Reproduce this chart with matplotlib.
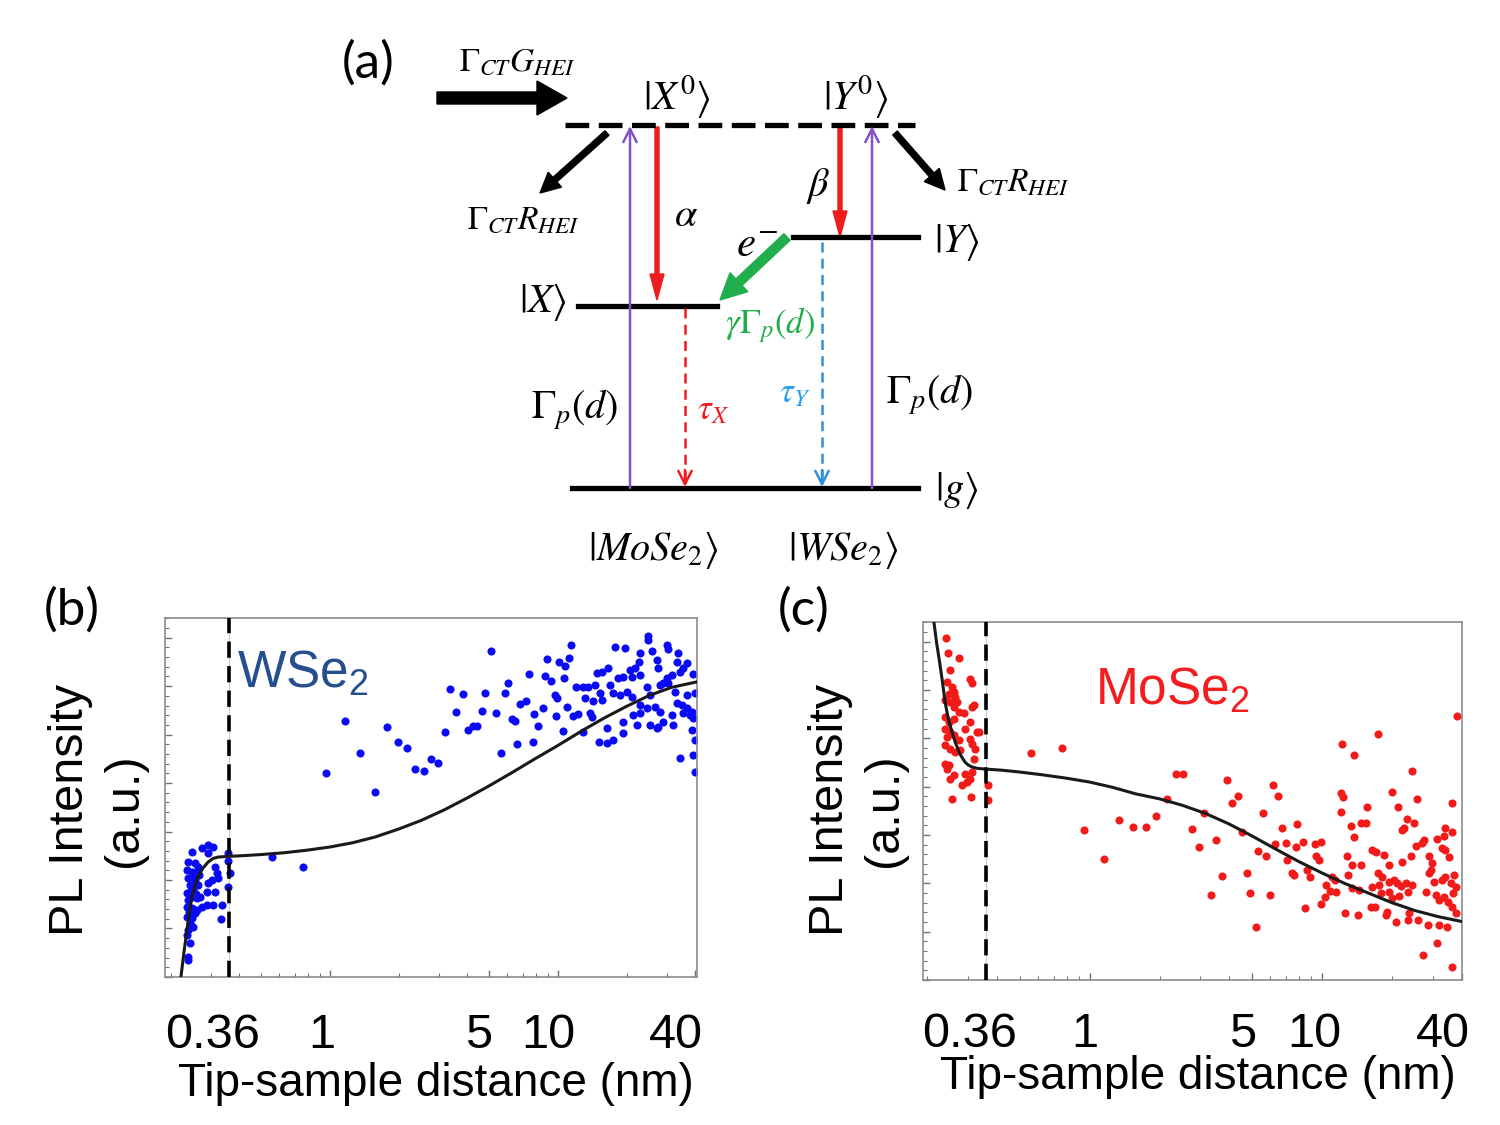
import numpy as np
import matplotlib.pyplot as plt
import matplotlib.transforms as mtransforms
from matplotlib import font_manager
from matplotlib.ticker import LogLocator, MultipleLocator, NullFormatter

plt.rcParams['font.family'] = ['Liberation Sans', 'DejaVu Sans']
plt.rcParams['mathtext.fontset'] = 'custom'
plt.rcParams['mathtext.rm'] = 'Liberation Sans'
plt.rcParams['mathtext.it'] = 'Liberation Sans:italic'

# ---------------- data ----------------
dist_ticks = [0.36, 1, 5, 10, 40]
dist_tick_labels = ['0.36', '1', '5', '10', '40']
tip_cut = 0.36

# WSe2 (panel b): (distance nm, PL a.u.)
wse2_near = [(0.248, 34.8), (0.275, 35.9), (0.292, 36.8), (0.307, 36.2), (0.292, 34.5), (0.357, 34.5),
             (0.238, 32.0), (0.256, 31.8), (0.264, 30.6), (0.236, 29.8), (0.248, 29.2), (0.261, 29.0),
             (0.313, 30.6), (0.319, 29.0), (0.323, 27.6), (0.304, 27.0), (0.365, 29.0),
             (0.238, 27.6), (0.256, 27.0), (0.243, 25.6), (0.264, 25.6), (0.250, 24.2),
             (0.292, 26.2), (0.289, 23.7), (0.313, 23.7), (0.236, 23.4), (0.248, 22.3), (0.238, 21.4),
             (0.261, 22.0), (0.269, 22.3), (0.307, 20.1), (0.336, 20.1), (0.289, 20.1),
             (0.236, 19.5), (0.248, 19.2), (0.261, 18.7), (0.275, 19.5), (0.236, 16.7), (0.248, 16.4),
             (0.256, 17.8), (0.243, 15.0), (0.250, 13.9), (0.238, 13.1), (0.236, 11.7), (0.243, 9.5),
             (0.238, 5.6), (0.238, 4.7), (0.357, 32.3), (0.357, 25.1), (0.333, 16.2),
             (0.252, 27.8), (0.245, 24.0), (0.258, 23.2), (0.241, 18.0), (0.266, 28.3)]
wse2_mid = [(0.556, 33.3), (0.762, 30.7), (0.960, 56.8), (1.16, 71.4), (1.35, 62.3), (1.58, 51.4),
            (1.78, 69.7), (1.99, 65.5), (2.18, 63.7), (2.36, 58.0), (2.58, 57.3), (2.77, 60.6),
            (2.98, 59.6), (3.19, 68.3), (3.36, 80.3), (3.57, 73.7), (3.83, 78.7), (4.03, 68.7),
            (4.24, 70.0), (4.41, 70.0), (4.64, 74.2), (4.79, 79.1), (5.08, 90.8), (5.35, 73.4),
            (5.62, 62.3), (5.86, 79.1), (6.04, 81.9), (6.28, 71.8), (6.48, 71.4), (6.61, 65.0),
            (6.81, 76.1), (7.24, 77.0), (7.46, 84.5), (7.77, 65.4), (7.85, 73.2), (8.17, 70.0)]
wse2_far = [(11.4, 92.5), (8.95, 88.6), (10.1, 87.7), (10.7, 86.6), (11.2, 88.9), (8.77, 83.8),
            (9.31, 82.5), (10.6, 83.3), (9.70, 78.6), (9.90, 77.7), (12.0, 80.8), (12.9, 80.8),
            (13.5, 80.8), (13.1, 77.7), (14.2, 76.9), (15.6, 77.2), (8.60, 74.9), (10.9, 75.2),
            (11.6, 72.7), (12.2, 73.3), (13.8, 73.5), (14.1, 72.4), (9.80, 72.7), (10.5, 68.5),
            (12.9, 68.2), (14.8, 84.7), (15.6, 85.0), (16.6, 86.1), (14.5, 81.3), (16.9, 81.3),
            (18.3, 83.3), (19.3, 83.6), (15.3, 79.1), (17.4, 79.1), (18.7, 78.6), (20.1, 79.4),
            (17.8, 91.9), (19.7, 91.6), (20.7, 85.5), (21.8, 86.1), (22.9, 84.1), (21.1, 83.6),
            (22.9, 90.3), (22.6, 87.7), (24.8, 93.9), (25.9, 90.8), (27.2, 88.3), (27.5, 86.1),
            (24.6, 80.8), (25.3, 78.6), (28.0, 81.3), (21.1, 78.0), (30.4, 91.4), (33.6, 90.3),
            (33.3, 87.7), (36.8, 87.5), (30.1, 83.3), (31.6, 84.1), (34.3, 85.0), (35.3, 86.1),
            (28.9, 81.9), (30.4, 81.9), (32.6, 79.4), (36.8, 78.6), (39.9, 79.1), (39.1, 84.4),
            (22.9, 75.8), (24.6, 74.9), (26.6, 75.2), (21.3, 73.0), (22.9, 73.5), (28.0, 73.8),
            (28.9, 71.0), (25.3, 70.2), (33.3, 76.3), (35.0, 75.8), (36.8, 74.9), (35.3, 73.5),
            (37.9, 73.0), (31.6, 73.0), (31.9, 70.2), (38.7, 73.8), (39.1, 72.1), (22.2, 70.2),
            (27.2, 69.4), (27.5, 69.6), (19.3, 71.0), (19.3, 68.0), (16.4, 69.4), (17.4, 66.0),
            (16.4, 65.2), (15.1, 65.5), (38.7, 68.8), (39.9, 66.0), (34.3, 61.0), (39.1, 61.8),
            (39.9, 57.1), (24.8, 95.0), (30.1, 92.5)]
wse2_fit_dist = [0.222, 0.229, 0.236, 0.242, 0.248, 0.256, 0.264, 0.277, 0.292, 0.307, 0.323,
                 0.36, 0.42, 0.50, 0.63, 0.79, 1.0, 1.26, 1.58, 2.0, 2.51, 3.16, 3.98, 5.01,
                 6.31, 7.94, 10.0, 12.6, 15.8, 20.0, 25.1, 31.6, 40.7]
wse2_fit_pl = [0.0, 7.0, 13.1, 18.0, 22.3, 25.5, 27.9, 30.3, 32.0, 33.0, 33.4,
               33.6, 33.8, 34.1, 34.6, 35.3, 36.2, 37.4, 39.0, 41.2, 43.6, 46.5, 49.8, 53.3,
               57.0, 60.8, 64.5, 68.4, 72.0, 75.4, 78.4, 80.7, 82.2]

# MoSe2 (panel c): (distance nm, PL a.u.)
mose2_near = [(0.241, 95.5), (0.246, 91.3), (0.274, 89.9), (0.251, 86.6), (0.306, 84.1), (0.312, 83.0),
              (0.243, 83.2), (0.256, 81.8), (0.261, 80.4), (0.248, 79.9), (0.264, 79.1),
              (0.239, 78.2), (0.251, 77.7), (0.269, 77.7), (0.261, 76.3), (0.274, 74.9), (0.288, 74.6),
              (0.318, 76.8), (0.312, 76.3), (0.239, 73.5), (0.248, 72.1), (0.261, 72.9),
              (0.306, 72.1), (0.334, 69.3), (0.327, 69.3), (0.291, 70.1),
              (0.239, 70.1), (0.251, 69.3), (0.243, 67.9), (0.261, 68.4), (0.274, 67.0),
              (0.306, 67.3), (0.312, 65.9), (0.239, 65.6), (0.251, 64.5), (0.264, 63.7), (0.277, 64.2),
              (0.321, 64.5), (0.318, 61.7), (0.239, 60.3), (0.248, 60.1), (0.243, 58.9),
              (0.291, 57.5), (0.312, 58.1), (0.306, 56.1), (0.261, 57.3), (0.251, 56.1),
              (0.282, 54.5), (0.297, 55.3), (0.256, 50.6), (0.308, 51.1), (0.365, 54.5), (0.365, 50.3)]
mose2_mid = [(0.561, 63.4), (0.758, 64.7), (0.949, 41.9), (1.15, 33.9), (1.34, 44.8), (1.54, 42.8),
             (1.75, 42.8), (1.94, 45.9), (2.16, 50.6)]
mose2_far = [(38.0, 73.7), (17.4, 68.7), (12.2, 65.9), (13.7, 62.8), (24.3, 58.4), (2.36, 57.5),
             (2.53, 57.5), (3.91, 55.9), (6.17, 54.5), (4.36, 51.4), (4.11, 49.4), (6.47, 51.4),
             (12.1, 52.2), (12.3, 51.1), (20.0, 52.5), (25.6, 50.6), (36.1, 49.4), (3.12, 46.6),
             (5.58, 46.6), (12.1, 46.9), (15.7, 48.3), (21.2, 48.3), (2.77, 42.2),
             (4.54, 41.3), (6.73, 42.5), (7.81, 43.6), (13.3, 43.0), (14.7, 43.9), (15.5, 43.9),
             (23.2, 45.0), (24.8, 43.9), (22.0, 41.9), (22.5, 42.5), (33.7, 42.5), (36.1, 41.3),
             (13.7, 39.9), (2.96, 37.2), (3.51, 39.1), (5.31, 36.0), (5.75, 34.6), (6.28, 38.0),
             (7.00, 38.3), (7.73, 37.2), (8.28, 38.5), (9.33, 38.0), (9.91, 38.5), (7.08, 33.5),
             (9.42, 34.6), (9.71, 33.5), (12.8, 34.6), (13.5, 32.1), (14.7, 32.1), (16.4, 36.3),
             (17.1, 35.8), (18.5, 34.9), (19.4, 32.1), (22.0, 33.0), (24.1, 34.6), (25.3, 37.4),
             (27.4, 39.1), (26.9, 38.3), (28.8, 34.6), (29.6, 32.7), (29.4, 30.7), (32.7, 36.9),
             (33.7, 36.3), (35.1, 34.4), (31.2, 39.4), (33.4, 40.2), (3.72, 29.1), (4.76, 29.9),
             (7.43, 29.9), (7.59, 29.3), (8.63, 30.7), (8.87, 28.8), (11.0, 28.8), (11.4, 27.9),
             (10.4, 26.5), (10.8, 24.9), (11.5, 24.6), (12.9, 29.3), (13.5, 25.7), (14.4, 25.1),
             (17.4, 29.9), (18.1, 28.8), (19.4, 27.4), (20.4, 27.9), (21.0, 27.1), (21.8, 26.3),
             (17.6, 26.5), (16.4, 26.0), (17.9, 24.3), (22.9, 27.1), (23.4, 24.6), (24.3, 26.5),
             (19.4, 24.6), (20.0, 22.9), (21.4, 23.5), (27.9, 24.6), (28.8, 29.9), (30.3, 27.4),
             (32.7, 27.9), (34.0, 28.8), (35.8, 27.1), (36.9, 29.3), (37.6, 26.0), (36.5, 24.3),
             (30.8, 23.7), (31.8, 22.3), (33.4, 23.2), (34.7, 21.8), (36.1, 20.4), (37.6, 18.7),
             (3.34, 23.7), (4.91, 24.3), (5.98, 23.7), (8.45, 20.1), (9.91, 21.2), (10.3, 23.2),
             (12.6, 18.7), (14.3, 18.2), (16.2, 20.4), (16.9, 20.4), (18.8, 18.2), (19.0, 19.0),
             (20.8, 16.2), (23.4, 16.8), (23.6, 18.7), (25.8, 16.8), (28.5, 15.4), (31.8, 15.4),
             (34.4, 14.8), (31.2, 10.3), (27.1, 7.0), (36.1, 3.6), (5.21, 14.8)]
mose2_fit_dist = [0.214, 0.220, 0.225, 0.232, 0.239, 0.245, 0.251, 0.258, 0.264, 0.277, 0.291,
                  0.30, 0.312, 0.33, 0.36, 0.42, 0.50, 0.63, 0.79, 1.0, 1.26, 1.58, 2.0, 2.51,
                  3.16, 3.98, 5.01, 6.31, 7.94, 10.0, 12.6, 15.8, 20.0, 25.1, 31.6, 39.5]
mose2_fit_pl = [100.0, 94.0, 90.0, 84.1, 77.7, 74.0, 71.2, 68.6, 66.5, 63.1, 60.9,
                60.1, 59.5, 59.1, 58.9, 58.6, 58.1, 57.3, 56.4, 55.3, 53.8, 52.0, 50.6, 48.8,
                46.5, 43.6, 40.2, 36.6, 33.1, 29.9, 26.9, 24.3, 21.6, 19.4, 17.7, 16.4]

# ---------------- figure ----------------
fig = plt.figure(figsize=(15, 11.25), dpi=100)

names = {f.name for f in font_manager.fontManager.ttflist}
if 'Liberation Sans Narrow' in names:
    tick_font, tick_size = 'Liberation Sans Narrow', 41
else:
    tick_font, tick_size = 'Liberation Sans', 35

# overlay for the level diagram and the panel letters (pixel coordinates)
ax0 = fig.add_axes([0, 0, 1, 1])
ax0.set_xlim(0, 1500)
ax0.set_ylim(1125, 0)
ax0.axis('off')

purple = '#8552c6'
red = '#ee1c1c'
green = '#1fae4b'


def label(x, y, s, size=29, color='black'):
    ax0.text(x, y, s, ha='center', va='center', fontsize=size, color=color, math_fontfamily='stix')


for x, y, s in [(368, 63, '(a)'), (72, 610, '(b)'), (804, 610, '(c)')]:
    ax0.text(x, y, s, ha='center', va='center', fontsize=37, family='Lato')

# levels
ax0.plot([565, 915], [125, 125], color='black', lw=3.8, dashes=(4.5, 1.8))
ax0.plot([578, 717], [306, 306], color='black', lw=3.8)
ax0.plot([793, 918], [237, 237], color='black', lw=3.8)
ax0.plot([572, 918], [488, 488], color='black', lw=3.8)

# pumping arrows (purple, open heads)
for x in [630, 872]:
    ax0.annotate('', xy=(x, 126), xytext=(x, 488),
                 arrowprops=dict(arrowstyle='->', color=purple, lw=1.8, mutation_scale=24,
                                 shrinkA=0, shrinkB=0))

# radiative decay (dashed)
ax0.plot([685, 685], [308, 484], color=red, lw=1.8, dashes=(4, 2.5))
ax0.annotate('', xy=(685, 487), xytext=(685, 470),
             arrowprops=dict(arrowstyle='->', color=red, lw=1.8, mutation_scale=24, shrinkA=0, shrinkB=0))
ax0.plot([822, 822], [242, 484], color='#2f8fd8', lw=1.8, dashes=(4, 2.5))
ax0.annotate('', xy=(822, 487), xytext=(822, 470),
             arrowprops=dict(arrowstyle='->', color='#2f8fd8', lw=1.8, mutation_scale=24, shrinkA=0, shrinkB=0))

# solid arrows
ax0.arrow(437, 98, 130, 0, width=12, head_width=34, head_length=30, length_includes_head=True,
          color='black')
ax0.arrow(607, 133, -67, 60, width=6, head_width=20, head_length=20, length_includes_head=True,
          color='black')
ax0.arrow(895, 133, 50, 57, width=6, head_width=20, head_length=20, length_includes_head=True,
          color='black')
ax0.arrow(657, 127, 0, 173, width=4, head_width=14, head_length=26, length_includes_head=True,
          color=red)
ax0.arrow(840, 127, 0, 110, width=4, head_width=14, head_length=26, length_includes_head=True,
          color=red)
ax0.arrow(787, 237, -67, 63, width=9, head_width=26, head_length=26, length_includes_head=True,
          color=green)

label(517, 62, r'$\Gamma_{CT}G_{HEI}$', 24)
label(677, 97, r'$|X^0\rangle$')
label(856, 97, r'$|Y^0\rangle$')
label(523, 220, r'$\Gamma_{CT}R_{HEI}$', 24)
label(1013, 182, r'$\Gamma_{CT}R_{HEI}$', 24)
label(686, 215, r'$\alpha$')
label(818, 186, r'$\beta$')
label(757, 245, r'$e^{-}$', 31)
label(957, 242, r'$|Y\rangle$')
label(543, 302, r'$|X\rangle$')
label(770, 325, r'$\gamma\mathit{\Gamma}_p(d)$', 25, green)
label(713, 410, r'$\tau_X$', 25, red)
label(795, 393, r'$\tau_Y$', 25, '#27a2e8')
label(575, 410, r'$\Gamma_p(d)$')
label(930, 395, r'$\Gamma_p(d)$')
label(957, 490, r'$|g\rangle$')
label(653, 550, r'$|MoSe_2\rangle$')
label(843, 550, r'$|WSe_2\rangle$')


def pl_panel(rect, points, fit_d, fit_pl, color, xlim, name, name_color, name_xy, shifts,
             tick_pad, xlabel_y, ylabel_xy):
    ax = fig.add_axes(rect)
    pts = np.array(points)
    ax.scatter(pts[:, 0], pts[:, 1], s=34, color=color, linewidths=0, zorder=2)
    ax.plot(fit_d, fit_pl, color='#1a1a1a', lw=2.2, zorder=3, solid_joinstyle='round')
    ax.axvline(tip_cut, color='0.8', lw=0.8, zorder=1)
    ax.axvline(tip_cut, color='black', lw=2.6, dashes=(4.5, 2.3), zorder=4)
    ax.set_xscale('log')
    ax.set_xlim(*xlim)
    ax.set_ylim(0, 100)
    ax.set_xticks(dist_ticks, dist_tick_labels, fontsize=tick_size, family=tick_font)
    ax.xaxis.set_minor_locator(LogLocator(base=10, subs=np.arange(2, 10)))
    ax.xaxis.set_minor_formatter(NullFormatter())
    ax.yaxis.set_major_locator(MultipleLocator(13.5))
    ax.yaxis.set_minor_locator(MultipleLocator(2.7))
    ax.yaxis.set_major_formatter(NullFormatter())
    ax.tick_params(which='major', direction='in', length=5, width=1, color='0.45', pad=tick_pad)
    ax.tick_params(which='minor', direction='in', length=3, width=0.8, color='0.45')
    ax.tick_params(axis='y', which='both', left=True, right=False)
    for sp in ax.spines.values():
        sp.set_color('0.55')
        sp.set_linewidth(1.2)
    for lab, dx in zip(ax.get_xticklabels(), shifts):
        lab.set_transform(lab.get_transform() +
                          mtransforms.ScaledTranslation(dx / 100, 0, fig.dpi_scale_trans))
    ax.set_xlabel('Tip-sample distance (nm)', fontsize=33)
    ax.xaxis.set_label_coords(0.51, xlabel_y)
    ax.set_ylabel('PL Intensity\n(a.u.)', fontsize=35, linespacing=1.25)
    ax.yaxis.set_label_coords(*ylabel_xy)
    ax.text(name_xy[0], name_xy[1], name, transform=ax.transAxes, fontsize=37,
            color=name_color, ha='left', va='baseline')
    return ax


pl_panel([0.110, 0.1316, 0.3547, 0.3191], wse2_near + wse2_mid + wse2_far,
         wse2_fit_dist, wse2_fit_pl, '#0a0af5', (0.189, 40.7), r'WSe$_2$', '#254f8e',
         (0.135, 0.805), [-16, -8, -11, -10, -19], 26, -0.237, (-0.034, 0.465))
pl_panel([0.6153, 0.1289, 0.3593, 0.3182], mose2_near + mose2_mid + mose2_far,
         mose2_fit_dist, mose2_fit_pl, '#f31a1a', (0.192, 39.5), r'MoSe$_2$', '#f41c1c',
         (0.319, 0.768), [-17, -5, -9, -8, -19], 23, -0.21, (-0.030, 0.475))

fig.savefig('out.png', dpi=100)
